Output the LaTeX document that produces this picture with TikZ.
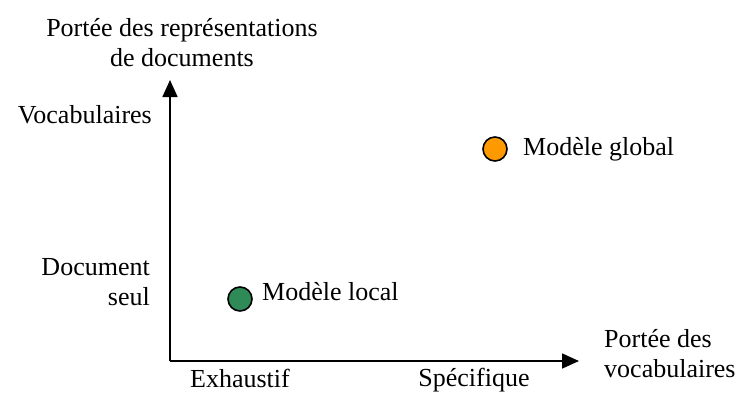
\documentclass[tikz,border=0pt]{standalone}
\usepackage{fontspec}
\setmainfont{Liberation Serif}
\usetikzlibrary{arrows.meta}

\definecolor{localgreen}{RGB}{46,139,87}
\definecolor{globalorange}{RGB}{255,153,0}

\tikzset{
  axis/.style={line width=1.6pt, -{Triangle[length=17pt,width=15pt]}},
  lbl/.style={inner sep=0pt, font=\fontsize{26}{30}\selectfont},
  model/.style={circle, draw, line width=1.6pt, minimum size=24pt, inner sep=0pt}
}

\begin{document}
\begin{tikzpicture}[x=1pt, y=-1pt]
    \useasboundingbox (0,0) rectangle (741,392);

    % axes
    \coordinate (O) at (170,361);
    \coordinate (ytip) at (170,80);
    \coordinate (xtip) at (579,361);
    \draw [axis] (O) -- (ytip);
    \draw [axis] (O) -- (xtip);

    % axis titles (base = last line)
    \node [lbl, align=center, anchor=base] (ytitle) at (182,66) {Port\'ee des repr\'esentations\\de documents};
    \node [lbl, align=left, anchor=base west] (xtitle) at (604,377) {Port\'ee des\\vocabulaires};

    % ticks labels
    \node [lbl, anchor=base east] (yhigh) at (152,123) {Vocabulaires};
    \node [lbl, align=right, anchor=base east] (ylow) at (150,305) {Document\\seul};
    \node [lbl, anchor=base] (xlow) at (240,387) {Exhaustif};
    \node [lbl, anchor=base] (xhigh) at (474,386) {Sp\'ecifique};

    % models
    \node [model, fill=localgreen] (local) at (240,299) {};
    \node [lbl, anchor=base west] (locallbl) at (262,300) {Mod\`ele local};
    \node [model, fill=globalorange] (global) at (495,149) {};
    \node [lbl, anchor=base west] (globallbl) at (523,155) {Mod\`ele global};
\end{tikzpicture}
\end{document}
